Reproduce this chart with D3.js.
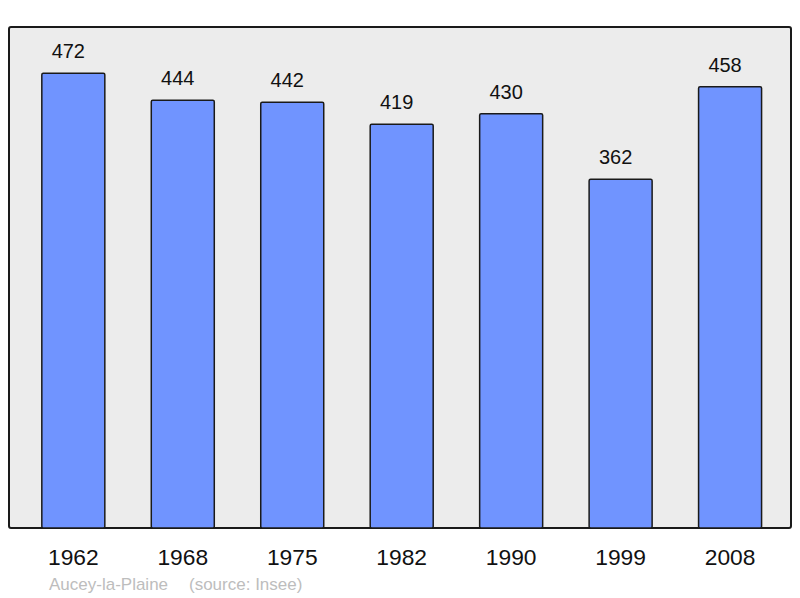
<!DOCTYPE html>
<html><head><meta charset="utf-8">
<script src="https://cdn.jsdelivr.net/npm/d3@7"></script>
<style>body{margin:0;background:#fff}svg{display:block}</style>
</head><body>
<script>
const years = ["1962","1968","1975","1982","1990","1999","2008"];
const population = [472,444,442,419,430,362,458];
const commune = "Aucey-la-Plaine";
const source = "(source: Insee)";

const W = 800, H = 598;
const svg = d3.select("body").append("svg").attr("width", W).attr("height", H);
const panel = {x0: 9, x1: 791, y0: 27, y1: 528};
const font = "Liberation Sans, Arial, sans-serif";

svg.append("rect").attr("x", panel.x0).attr("y", panel.y0)
  .attr("width", panel.x1 - panel.x0).attr("height", panel.y1 - panel.y0)
  .attr("rx", 2).attr("fill", "#ececec").attr("stroke", "#1a1a1a").attr("stroke-width", 2);

const x = d3.scaleBand().domain(years).range([11.5, 791.9]).paddingInner(0.4244).paddingOuter(0.277);
const y = d3.scaleLinear().domain([0, 520]).range([panel.y1, panel.y0]);

svg.selectAll("rect.bar").data(population).join("rect").attr("class","bar")
  .attr("x", (d,i) => x(years[i])).attr("y", d => y(d))
  .attr("width", x.bandwidth()).attr("height", d => y(0) - y(d))
  .attr("rx", 1.5)
  .attr("fill", "#7094ff").attr("stroke", "#1a1a1a").attr("stroke-width", 1.5);

svg.selectAll("text.val").data(population).join("text").attr("class","val")
  .attr("x", (d,i) => x(years[i]) + x.bandwidth()/2 - 5).attr("y", d => y(d) - 15)
  .attr("text-anchor", "middle").attr("font-family", font)
  .attr("font-size", 20).attr("fill", "#111").text(d => d);

svg.selectAll("text.year").data(years).join("text").attr("class","year")
  .attr("x", d => x(d) + x.bandwidth()/2).attr("y", 565)
  .attr("text-anchor", "middle").attr("font-family", font)
  .attr("font-size", 22.8).attr("fill", "#111").text(d => d);

svg.append("text").attr("x", 49).attr("y", 590)
  .attr("font-family", font).attr("font-size", 17)
  .attr("fill", "#bdbdbd").text(commune);
svg.append("text").attr("x", 189).attr("y", 590)
  .attr("font-family", font).attr("font-size", 17)
  .attr("fill", "#bdbdbd").text(source);
</script>
</body></html>
